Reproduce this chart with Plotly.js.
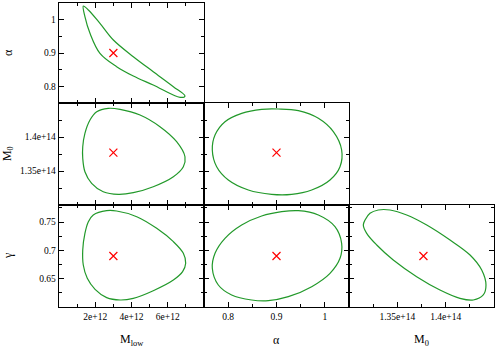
<!DOCTYPE html>
<html>
<head>
<meta charset="utf-8">
<script src="https://cdn.plot.ly/plotly-3.0.1.min.js"></script>
<style>
  html, body { margin: 0; padding: 0; background: #fff; }
  #corner { width: 495px; height: 349px; }
</style>
</head>
<body>
<div id="corner"></div>
<script>
// best-fit point
var bestMlow = 3.0e12, bestAlpha = 0.9, bestM0 = 1.377e14, bestGamma = 0.69;

// Mlow vs alpha contour
var c1_mlow  = [1.34e12, 1.62e12, 2.26e12, 3.0e12, 4.10e12, 5.20e12, 6.31e12, 6.95e12, 6.68e12, 5.20e12, 4.10e12, 3.18e12, 2.26e12, 1.71e12, 1.43e12, 1.34e12];
var c1_alpha = [1.041, 1.029, 0.989, 0.939, 0.889, 0.844, 0.799, 0.771, 0.767, 0.804, 0.831, 0.859, 0.899, 0.959, 1.009, 1.041];

// Mlow vs M0 contour
var c2_mlow = [2.08e12, 2.72e12, 3.37e12, 4.47e12, 5.57e12, 6.49e12, 6.95e12, 6.86e12, 6.31e12, 5.20e12, 4.10e12, 3.27e12, 2.44e12, 1.80e12, 1.43e12, 1.31e12, 1.31e12, 1.43e12, 1.71e12, 2.08e12];
var c2_m0   = [1.4372e14, 1.4422e14, 1.4407e14, 1.4324e14, 1.4152e14, 1.3931e14, 1.3710e14, 1.3563e14, 1.3416e14, 1.3269e14, 1.3181e14, 1.3157e14, 1.3196e14, 1.3319e14, 1.3490e14, 1.3687e14, 1.3857e14, 1.4054e14, 1.4250e14, 1.4372e14];

// Mlow vs gamma contour
var c3_mlow  = [1.89e12, 2.63e12, 3.18e12, 4.29e12, 5.39e12, 6.31e12, 6.86e12, 6.99e12, 6.82e12, 6.31e12, 5.20e12, 4.10e12, 3.37e12, 2.63e12, 1.99e12, 1.56e12, 1.34e12, 1.31e12, 1.43e12, 1.62e12, 1.89e12];
var c3_gamma = [0.7624, 0.7700, 0.7694, 0.7594, 0.7388, 0.7153, 0.6947, 0.6771, 0.6624, 0.6476, 0.6288, 0.6153, 0.6124, 0.6165, 0.6312, 0.6506, 0.6741, 0.7006, 0.7300, 0.7506, 0.7624];

// alpha vs M0 contour
var c4_alpha = [0.7672, 0.7728, 0.7934, 0.8279, 0.8693, 0.9038, 0.9452, 0.9866, 1.0176, 1.0348, 1.0314, 1.0107, 0.9728, 0.9314, 0.8900, 0.8417, 0.8003, 0.7762, 0.7672];
var c4_m0    = [1.3809e14, 1.4029e14, 1.4225e14, 1.4348e14, 1.4407e14, 1.4412e14, 1.4387e14, 1.4275e14, 1.4078e14, 1.3809e14, 1.3563e14, 1.3368e14, 1.3221e14, 1.3157e14, 1.3157e14, 1.3221e14, 1.3368e14, 1.3563e14, 1.3809e14];

// alpha vs gamma contour
var c5_alpha = [0.7672, 0.7728, 0.7934, 0.8279, 0.8693, 0.9107, 0.9452, 0.9866, 1.0210, 1.0348, 1.0314, 1.0107, 0.9728, 0.9245, 0.8831, 0.8486, 0.8072, 0.7796, 0.7672];
var c5_gamma = [0.6683, 0.6947, 0.7212, 0.7447, 0.7606, 0.7682, 0.7700, 0.7624, 0.7418, 0.7124, 0.6859, 0.6594, 0.6359, 0.6182, 0.6112, 0.6124, 0.6212, 0.6388, 0.6683];

// M0 vs gamma contour
var c6_m0    = [1.3166e14, 1.3217e14, 1.3303e14, 1.3424e14, 1.3597e14, 1.3804e14, 1.4045e14, 1.4252e14, 1.4373e14, 1.4417e14, 1.4389e14, 1.4286e14, 1.4148e14, 1.3941e14, 1.3700e14, 1.3458e14, 1.3287e14, 1.3183e14, 1.3148e14, 1.3166e14];
var c6_gamma = [0.7535, 0.7653, 0.7712, 0.7712, 0.7624, 0.7447, 0.7182, 0.6918, 0.6653, 0.6388, 0.6212, 0.6124, 0.6153, 0.6300, 0.6535, 0.6829, 0.7094, 0.7300, 0.7447, 0.7535];

// tick labels
var mlowTicks  = [2e12, 4e12, 6e12];
var mlowText   = ['2e+12', '4e+12', '6e+12'];
var alphaTicks = [0.8, 0.9, 1.0];
var alphaText  = ['0.8', '0.9', '1'];
var m0Ticks    = [1.35e14, 1.4e14];
var m0Text     = ['1.35e+14', '1.4e+14'];
var gammaTicks = [0.65, 0.7, 0.75];
var gammaText  = ['0.65', '0.7', '0.75'];

var green = '#22992a';
var font = 'Liberation Serif, Times New Roman, serif';

function contour(x, y, n) {
  return {
    x: x, y: y, xaxis: 'x' + n, yaxis: 'y' + n,
    type: 'scatter', mode: 'lines',
    line: {color: green, width: 1.2, shape: 'spline', smoothing: 1},
    hoverinfo: 'skip'
  };
}
function best(x, y, n) {
  return {
    x: [x], y: [y], xaxis: 'x' + n, yaxis: 'y' + n,
    type: 'scatter', mode: 'markers',
    marker: {symbol: 'x-thin', size: 8, line: {color: 'red', width: 1.2}}
  };
}

var data = [
  contour(c1_mlow, c1_alpha, ''),  best(bestMlow, bestAlpha, ''),
  contour(c2_mlow, c2_m0, 2),      best(bestMlow, bestM0, 2),
  contour(c3_mlow, c3_gamma, 3),   best(bestMlow, bestGamma, 3),
  contour(c4_alpha, c4_m0, 4),     best(bestAlpha, bestM0, 4),
  contour(c5_alpha, c5_gamma, 5),  best(bestAlpha, bestGamma, 5),
  contour(c6_m0, c6_gamma, 6),     best(bestM0, bestGamma, 6)
];

var col = [[0, 1/3], [1/3, 2/3], [2/3, 1]];
var row = [[0.671, 1], [0.3355, 0.671], [0, 0.3355]];

function ax(dom, range, tv, tt, minorTick0, minorDtick, anchor, labels) {
  return {
    domain: dom, range: range, anchor: anchor,
    showline: true, linecolor: 'black', linewidth: 1.3, mirror: 'allticks',
    ticks: 'inside', ticklen: 5, tickcolor: 'black', tickwidth: 1,
    tickmode: 'array', tickvals: tv, ticktext: tt,
    showticklabels: labels,
    minor: {ticks: 'inside', ticklen: 3, tickcolor: 'black', tick0: minorTick0, dtick: minorDtick, showgrid: false},
    showgrid: false, zeroline: false, fixedrange: true,
    tickfont: {family: font, size: 9.5, color: 'black'}
  };
}

var mlowR = [0, 8e12], alphaR = [0.75, 1.05], m0R = [1.30e14, 1.45e14], gammaR = [0.6, 0.78];

function xTitle(text, x) {
  return {text: text, xref: 'paper', yref: 'paper', x: x, y: 0, xanchor: 'center', yanchor: 'middle',
          yshift: -33, showarrow: false, font: {family: font, size: 12, color: 'black'}};
}
function yTitle(text, y) {
  return {text: text, xref: 'paper', yref: 'paper', x: 0, y: y, xanchor: 'center', yanchor: 'middle',
          xshift: -51, textangle: -90, showarrow: false, font: {family: font, size: 12, color: 'black'}};
}

var layout = {
  width: 495, height: 349,
  margin: {l: 59, r: 1, t: 3, b: 42},
  paper_bgcolor: 'white', plot_bgcolor: 'white',
  showlegend: false,
  xaxis:  ax(col[0], mlowR, mlowTicks, mlowText, 0, 1e12, 'y', false),
  yaxis:  ax(row[0], alphaR, alphaTicks, alphaText, 0.75, 0.05, 'x', true),
  xaxis2: ax(col[0], mlowR, mlowTicks, mlowText, 0, 1e12, 'y2', false),
  yaxis2: ax(row[1], m0R, m0Ticks, m0Text, 1.30e14, 0.025e14, 'x2', true),
  xaxis3: ax(col[0], mlowR, mlowTicks, mlowText, 0, 1e12, 'y3', true),
  yaxis3: ax(row[2], gammaR, gammaTicks, gammaText, 0.6, 0.025, 'x3', true),
  xaxis4: ax(col[1], alphaR, alphaTicks, alphaText, 0.75, 0.05, 'y4', false),
  yaxis4: ax(row[1], m0R, m0Ticks, m0Text, 1.30e14, 0.025e14, 'x4', false),
  xaxis5: ax(col[1], alphaR, alphaTicks, alphaText, 0.75, 0.05, 'y5', true),
  yaxis5: ax(row[2], gammaR, gammaTicks, gammaText, 0.6, 0.025, 'x5', false),
  xaxis6: ax(col[2], m0R, m0Ticks, m0Text, 1.30e14, 0.025e14, 'y6', true),
  yaxis6: ax(row[2], gammaR, gammaTicks, gammaText, 0.6, 0.025, 'x6', false),
  annotations: [
    xTitle('M<sub>low</sub>', 1/6),
    xTitle('α', 0.5),
    xTitle('M<sub>0</sub>', 5/6),
    yTitle('α', 0.8355),
    yTitle('M<sub>0</sub>', 0.503),
    yTitle('γ', 0.168)
  ]
};

Plotly.newPlot('corner', data, layout, {displayModeBar: false, staticPlot: true});
</script>
</body>
</html>
